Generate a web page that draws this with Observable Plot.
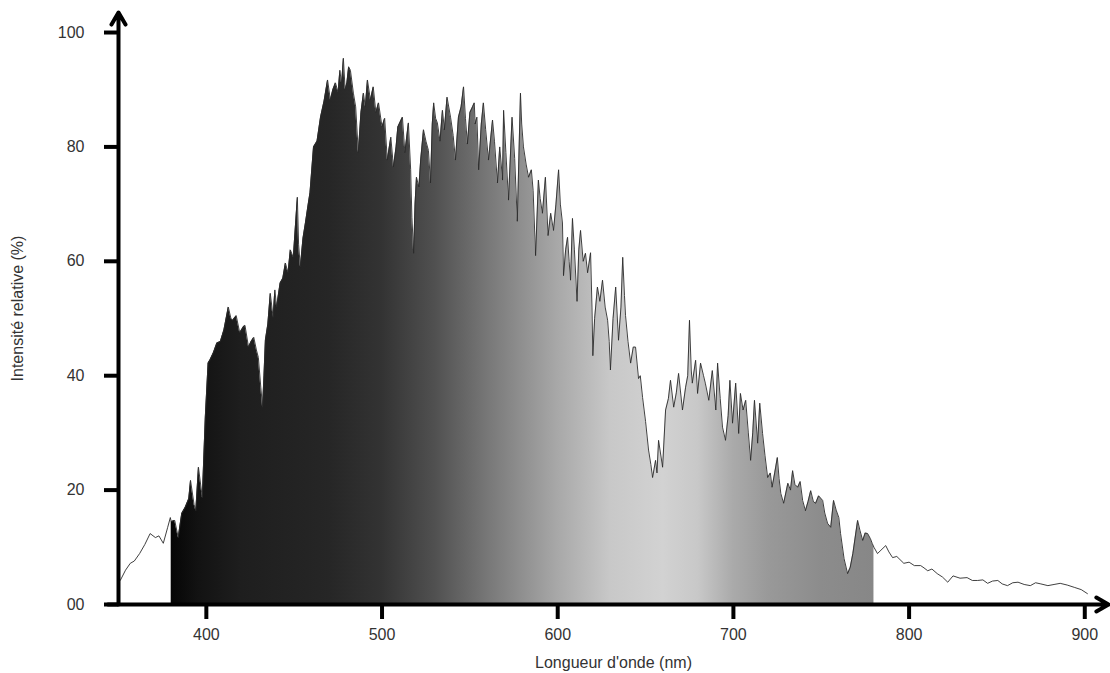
<!DOCTYPE html>
<html><head><meta charset="utf-8">
<script src="https://cdn.jsdelivr.net/npm/d3@7"></script>
<script src="https://cdn.jsdelivr.net/npm/@observablehq/plot@0.6"></script>
<style>
body{margin:0;background:#fff;}
#chart svg{font-family:"Liberation Sans",Arial,sans-serif;}
#chart g[aria-label^="x-axis"] path, #chart g[aria-label^="x-axis"] line,
#chart g[aria-label^="y-axis"] path, #chart g[aria-label^="y-axis"] line{stroke:#000;stroke-width:4px;}
</style></head><body><div id="chart"></div><script>
const wavelengths = [350,351,354,356.7,359,362,365,368,371,373,375.5,378,379.5,380,382,384,386,388,390,391,393,394,395.5,397.7,399.4,401,402,404,406,408,410,412.5,414,415,417,419,421,422,424,425.5,427,428.5,429.6,431,432,432.8,433.6,435,436.4,438,439,440,442,443.5,445,446.5,447.8,449.5,451.8,452.5,453.5,455,456.4,458,459,461,463,465,467,469,470.6,472,473.5,475,476,477,478,479,480,481,482,483.7,485,486.5,488,489.4,490.5,491.7,493.4,495,496.5,498,500,501.5,503,505,506.5,508,509,511.6,513,515,516.3,517,518,518.8,519.6,521,522,523.6,525,526.4,527.6,528.6,529.4,530.5,531.5,533,534.4,535.5,537,539,540.5,541.8,543.5,545,546.4,547.5,548.6,550,551.5,552.5,553,554,555,556.5,557.7,559,560.6,562.9,564,565.7,567,568.6,569.2,570.5,572,574,575.5,577,578.8,579.5,580.5,582,583.4,585,586,587.4,589,590,591.3,593,594.5,596,597.6,599,600.5,601.5,602.7,603.3,604.5,605.6,606.5,607.3,608.4,609.5,611,612,613,614.5,615.8,617,618.7,619.5,620,621,622.6,624,625.5,627,628.4,629.3,630,631.5,633,634.6,636,637,638,638.6,640,641.5,643,644.3,646,647,648.3,650,651.7,653,654,655.7,656.5,657.4,659.7,661.4,663,664.2,666,667.5,668.8,671,672.8,674,675,676,676.6,678.5,679.6,681.3,683,684,686,688,690,691,692.5,693.8,695.5,697,698,699.5,701.3,703,704,705.5,707,708.5,709.8,711,712,713.8,715,716.6,718,719.5,721,722,723.5,725,726,727,728.6,731,732.5,733.7,735,736.6,738,739.4,741,742.5,744,745.5,746.8,748.5,750.8,752,753.6,755.4,757,758.5,760,761,763,765,766.5,768,770.7,772,773.6,775,776.4,778,779,780,782,784,786.7,788.5,790.6,793,797,800,803,806.6,808.5,810.6,813,816,819,822,825,829,833,836,839,842,844.7,847.5,850.5,853,856,859,862,865.5,869,872,875,879,882.5,886,890,894,898,901.5];
const intensity = [4.0,4.2,6.0,7.2,7.6,8.9,10.5,12.4,11.7,12.0,10.7,13.5,15.2,14.5,14.7,11.7,15.9,17,18.5,21.7,17.5,16.4,24,18.7,32.7,42.2,42.7,44,45.7,46,48,52,50,49.7,50.5,47.5,48.5,48.8,45,46,46.7,44.5,43.2,38,34.5,40,46.2,49,54.4,50.2,55,52,56.2,57,59.7,58,62,60.7,71.2,63,59,64,66.7,70,72,80,81,85.2,88,91.7,88.2,90,91.2,89.5,93.4,91,95.5,90,91.2,94,93.4,89.4,87,79,86,89.4,87,91.7,88.2,90.5,86,87.7,83.5,85,77.7,81.7,76.5,80,83.5,85.2,79,84.2,76,67.7,61.4,70,74.7,73,77.7,83,81,79.4,73.7,84,87.7,85,84.2,81,86.4,83,88.7,85.2,82,77.7,85.2,87,90.5,85,80.5,86,87,87.7,84,85.2,76,84,87.7,83,77.7,84.7,81,73.7,80,74.2,86.4,79,70.7,85.2,78,67,89.4,84,80,77,74.7,76,72.4,61,74.2,71,68.4,74.7,64.5,68.4,65.4,70,76,70,66.7,57.5,62,64.2,60,56.7,67.5,62,53,62,65.4,60,61.4,58,61.5,52,43.5,50,55.5,53,56.7,52,49.7,46,41,50,55.5,46.2,52,60.7,54,50.5,46,42.2,45,45,39.5,40,36.2,32,27,24.5,22.2,25.2,23,28.7,24,34,36,39.2,34.5,37,40.4,34,38,40,49.7,41,38.7,42.7,36.9,42.2,40,38.7,35.7,40.9,34,42.2,36,31,28.7,33,39.2,31.7,38.7,29.9,36.9,34,35.7,30,25.2,30,35.7,28.2,35.2,29.9,26,22.2,23,20.5,23,25.7,22,19.4,17.7,21.2,20,23.4,21,20.5,21.5,18.2,16.4,18,19.9,18,17.7,19,18.2,16,14.2,13.5,18.2,16.5,15.2,12.4,8,5.4,6.5,8.9,14.7,13,11.2,12.5,12.4,11.5,10.7,10,8.9,9.5,10.3,9.2,8.2,8.4,7.2,7.4,6.8,6.8,6.4,5.9,6.2,5.4,4.8,3.9,5,4.6,4.7,4.2,4.2,4.3,3.7,4.1,4.2,3.6,3.3,3.8,3.9,3.5,3.3,3.8,3.6,3.3,3.5,3.7,3.4,3,2.6,1.9];
const xTicks = [400,500,600,700,800,900];
const yTicks = [0,20,40,60,80,100];
const yTickLabels = ["00","20","40","60","80","100"];
const gradStops = [380,395,420,470,500,530,560,600,630,660,680,700,720,750,780];
const gradGrey = [5,18,30,38,51,80,119,168,200,210,200,170,153,140,135];
const fillStart = 380, fillEnd = 780;
const xDomainStart = 350, xAxisStart = 344, xAxisEnd = 913.5, yAxisEnd = 103.5;

const data = wavelengths.map((w, i) => ({w, v: intensity[i]}));
const filled = data.filter(d => d.w >= fillStart && d.w <= fillEnd);

const plot = Plot.plot({
  width: 1110, height: 673,
  marginLeft: 118, marginRight: 2, marginTop: 12, marginBottom: 69,
  style: {fontFamily: '"Liberation Sans", Arial, sans-serif', fontSize: "16px", color: "#333", background: "#fff", overflow: "visible"},
  x: {domain: [xDomainStart, xAxisEnd], ticks: xTicks, tickSize: 15, tickPadding: 9, tickFormat: d => String(d),
      label: "Longueur d'onde (nm)", labelAnchor: "center", labelOffset: 63, labelArrow: "none"},
  y: {domain: [0, yAxisEnd], ticks: yTicks, tickSize: 14, tickPadding: 20,
      tickFormat: d => yTickLabels[yTicks.indexOf(d)],
      label: "Intensité relative (%)", labelAnchor: "center", labelOffset: 107, labelArrow: "none"},
  marks: [
    Plot.areaY(filled, {x: "w", y: "v", fill: "url(#specgrad)"}),
    Plot.lineY(data, {x: "w", y: "v", stroke: "#2a2a2a", strokeWidth: 0.9}),
    Plot.arrow([{x1: xDomainStart, y1: 0, x2: xDomainStart, y2: yAxisEnd}], {x1: "x1", y1: "y1", x2: "x2", y2: "y2", stroke: "#000", strokeWidth: 4, headLength: 5.25, headAngle: 60}),
    Plot.arrow([{x1: xAxisStart, y1: 0, x2: xAxisEnd, y2: 0}], {x1: "x1", y1: "y1", x2: "x2", y2: "y2", stroke: "#000", strokeWidth: 4, headLength: 5.25, headAngle: 60})
  ]
});

const xs = plot.scale("x");
const defs = d3.select(plot).insert("defs", ":first-child");
const grad = defs.append("linearGradient").attr("id", "specgrad")
  .attr("gradientUnits", "userSpaceOnUse")
  .attr("x1", xs.apply(fillStart)).attr("x2", xs.apply(fillEnd)).attr("y1", 0).attr("y2", 0);
gradStops.forEach((w, i) => {
  const g = gradGrey[i];
  grad.append("stop").attr("offset", (w - fillStart) / (fillEnd - fillStart)).attr("stop-color", `rgb(${g},${g},${g})`);
});
document.getElementById("chart").appendChild(plot);
</script></body></html>
